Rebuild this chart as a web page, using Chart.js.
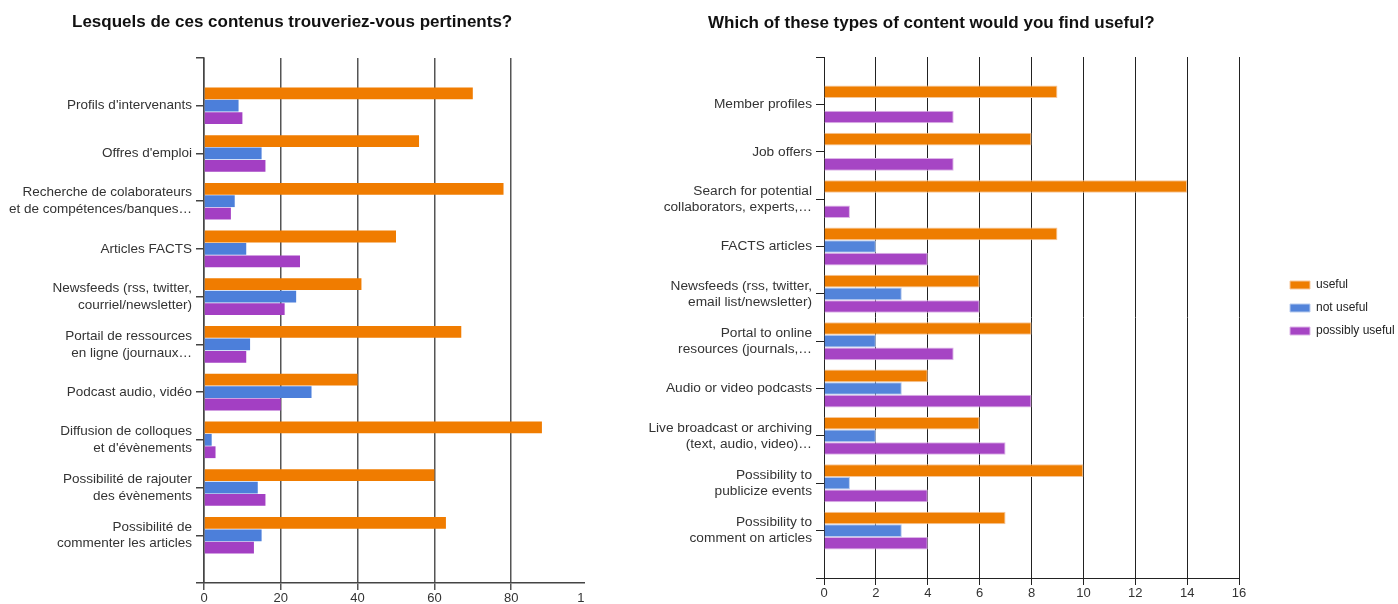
<!DOCTYPE html>
<html><head><meta charset="utf-8">
<script src="https://cdn.jsdelivr.net/npm/chart.js@4.4.1/dist/chart.umd.min.js"></script>
<style>
html,body{margin:0;padding:0;background:#fff;width:1398px;height:604px;overflow:hidden;}
#clipL{position:absolute;left:0;top:0;width:585px;height:604px;overflow:hidden;}
#wrapL{position:absolute;left:0;top:0;width:640px;height:604px;}
#wrapR{position:absolute;left:600px;top:0;width:798px;height:604px;}
</style></head><body>
<div id="clipL"><div id="wrapL"><canvas id="cL"></canvas></div></div>
<div id="wrapR"><canvas id="cR"></canvas></div>
<script>
// ---- Left chart (French) ----
const frTitle = 'Lesquels de ces contenus trouveriez-vous pertinents?';
const frCategories = [
  "Profils d'intervenants",
  "Offres d'emploi",
  ["Recherche de colaborateurs", "et de compétences/banques…"],
  "Articles FACTS",
  ["Newsfeeds (rss, twitter,", "courriel/newsletter)"],
  ["Portail de ressources", "en ligne (journaux…"],
  "Podcast audio, vidéo",
  ["Diffusion de colloques", "et d'évènements"],
  ["Possibilité de rajouter", "des évènements"],
  ["Possibilité de", "commenter les articles"]
];
const frUseful      = [70, 56, 78, 50, 41, 67, 40, 88, 60, 63];
const frNotUseful   = [ 9, 15,  8, 11, 24, 12, 28,  2, 14, 15];
const frPossibly    = [10, 16,  7, 25, 21, 11, 20,  3, 16, 13];
const frAxisMax = 100;
const frAxisStep = 20;

// ---- Right chart (English) ----
const enTitle = 'Which of these types of content would you find useful?';
const enCategories = [
  "Member profiles",
  "Job offers",
  ["Search for potential", "collaborators, experts,…"],
  "FACTS articles",
  ["Newsfeeds (rss, twitter,", "email list/newsletter)"],
  ["Portal to online", "resources (journals,…"],
  "Audio or video podcasts",
  ["Live broadcast or archiving", "(text, audio, video)…"],
  ["Possibility to", "publicize events"],
  ["Possibility to", "comment on articles"]
];
const enUseful      = [9, 8, 14, 9, 6, 8, 4, 6, 10, 7];
const enNotUseful   = [0, 0,  0, 2, 3, 2, 3, 2,  1, 3];
const enPossibly    = [5, 5,  1, 4, 6, 5, 8, 7,  4, 4];
const enAxisMax = 16;
const enAxisStep = 2;

const seriesNames = ['useful', 'not useful', 'possibly useful'];

const FONT = "'Liberation Sans', Arial, sans-serif";
const padLabels = a => ['', ...a, ''];
const padData = a => [null, ...a, null];

Chart.defaults.font.family = FONT;
Chart.defaults.animation = false;

function makeChart(id, o) {
  const placeBoxes = {
    id: 'placeBoxes',
    afterLayout(chart) {
      if (chart.titleBlock) { chart.titleBlock.left = o.titleX; }
      if (chart.legend && o.legendDX !== undefined) {
        chart.legend.left += o.legendDX; chart.legend.right += o.legendDX;
        chart.legend.top += o.legendDY; chart.legend.bottom += o.legendDY;
      }
    }
  };
  return new Chart(document.getElementById(id), {
    type: 'bar',
    data: {
      labels: padLabels(o.categories),
      datasets: [
        { label: seriesNames[0], data: padData(o.series[0]), backgroundColor: o.colors[0], borderColor: o.borders[0], borderWidth: o.bw },
        { label: seriesNames[1], data: padData(o.series[1]), backgroundColor: o.colors[1], borderColor: o.borders[1], borderWidth: o.bw },
        { label: seriesNames[2], data: padData(o.series[2]), backgroundColor: o.colors[2], borderColor: o.borders[2], borderWidth: o.bw }
      ]
    },
    options: {
      indexAxis: 'y',
      responsive: true,
      maintainAspectRatio: false,
      categoryPercentage: o.catPct,
      barPercentage: o.barPct,
      layout: { padding: 0 },
      plugins: {
        title: {
          display: true, text: o.title, align: 'start', color: '#111',
          font: { size: o.titleSize, weight: 'bold', family: FONT, lineHeight: 1.2 },
          padding: { top: o.titleTop, bottom: o.titleBottom }
        },
        legend: o.legend,
        tooltip: { enabled: false }
      },
      scales: {
        x: {
          type: 'linear', min: 0, max: o.max,
          ticks: { stepSize: o.step, color: '#333', font: { size: 13 }, padding: 1 },
          grid: { color: o.gridColor, lineWidth: o.gridW, tickLength: 7, tickColor: o.gridColor },
          border: { display: true, color: o.axisColor, width: o.gridW },
          afterFit: s => { s.height = o.xHeight; s.paddingRight = o.xPadRight; }
        },
        y: {
          type: 'category', offset: false,
          ticks: { color: '#333', autoSkip: false, padding: 4, font: { size: o.labelSize, lineHeight: o.labelLH } },
          grid: { display: true, drawOnChartArea: false, offset: false, tickLength: 8, color: o.axisColor, lineWidth: o.gridW },
          border: { display: true, color: o.axisColor, width: o.gridW },
          afterFit: s => { s.width = o.yWidth; }
        }
      }
    },
    plugins: [placeBoxes]
  });
}

makeChart('cL', {
  categories: frCategories,
  series: [frUseful, frNotUseful, frPossibly],
  colors: ['#F07C00', '#4C7FDA', '#A33FC3'],
  borders: ['rgba(0,0,0,0)', 'rgba(0,0,0,0)', 'rgba(0,0,0,0)'], bw: 0,
  catPct: 0.78, barPct: 0.95,
  titleX: 72, title: frTitle, titleSize: 17, titleTop: 12, titleBottom: 25.6,
  legend: { display: false },
  max: frAxisMax, step: frAxisStep,
  gridColor: '#555', gridW: 1.5, axisColor: '#444',
  xHeight: 21, xPadRight: 640 - 588,
  yWidth: 204, labelSize: 13.5, labelLH: 1.25
});

makeChart('cR', {
  categories: enCategories,
  series: [enUseful, enNotUseful, enPossibly],
  colors: ['#EE7D00', '#5384DA', '#A645C4'],
  borders: ['#F6C79A', '#B9CCEE', '#DDB5E8'], bw: 1,
  catPct: 0.8, barPct: 1.0,
  titleX: 108, title: enTitle, titleSize: 17, titleTop: 13, titleBottom: 23.6,
  legend: {
    display: true, position: 'right', align: 'center',
    labels: { boxWidth: 20, boxHeight: 8, padding: 11, color: '#222', font: { size: 12 } }
  },
  legendDX: 40, legendDY: 6,
  max: enAxisMax, step: enAxisStep,
  gridColor: '#222', gridW: 1, axisColor: '#222',
  xHeight: 26, xPadRight: 798 - 639,
  yWidth: 224, labelSize: 13.7, labelLH: 1.18
});
</script>
</body></html>
